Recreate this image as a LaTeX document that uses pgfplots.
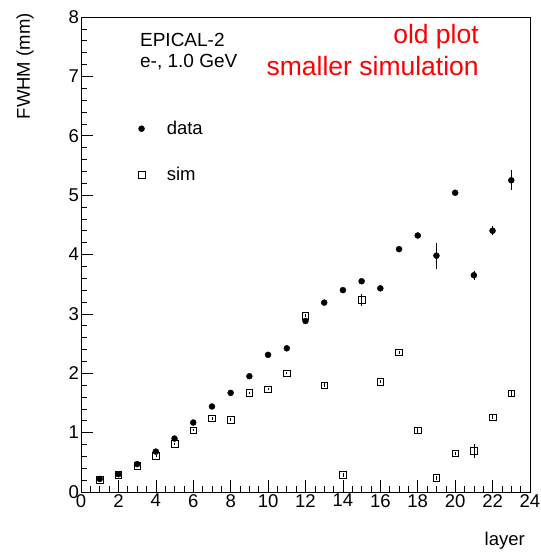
\documentclass[border=0pt]{standalone}
\usepackage{pgfplots}
\pgfplotsset{compat=1.18}
\usepackage{fontspec}
\setmainfont{Liberation Sans}
\pgfplotsset{mylegend/.style={legend image code/.code={\path (-3pt,0pt) (23pt,0pt); \draw[##1] plot coordinates {(0pt,0pt)};}}}
\begin{document}
\begin{tikzpicture}
\useasboundingbox (-81pt,-60pt) rectangle (460pt,492pt);
\begin{axis}[
  scale only axis, width=449pt, height=475pt,
  xmin=0, xmax=24, ymin=0, ymax=8,
  xtick={0,2,...,24}, ytick={0,1,...,8},
  minor x tick num=3, minor y tick num=4,
  xtick pos=bottom, ytick pos=left,
  tick align=inside,
  major tick length=12pt, minor tick length=6pt,
  every tick/.style={black, line width=0.6pt},
  axis line style={black, line width=0.6pt},
  /pgf/number format/assume math mode=true,
  tick label style={font=\fontsize{18.5}{22}\selectfont},
  xticklabel style={inner sep=2pt},
  yticklabel style={inner sep=2pt},
  xlabel={layer},
  ylabel={FWHM (mm)},
  label style={font=\fontsize{18.5}{22}\selectfont},
  xlabel style={at={(axis description cs:1,0)}, anchor=north east, inner sep=0pt, yshift=-40pt, xshift=-5pt},
  ylabel style={at={(axis description cs:-0.105,1.008)}, anchor=south east, inner sep=0pt},
  legend style={draw=none, fill=none, at={(axis cs:2.89,6.315)}, anchor=north west,
    font=\fontsize{18.5}{22}\selectfont, row sep=27pt, legend cell align=left},
  clip=false,
]
\addplot+[only marks, mark=*, mark size=3pt, black, mark options={fill=black}, mylegend,
  error bars/.cd, y dir=both, y explicit, error bar style={black, line width=0.6pt}, error mark=none]
table[x=x, y=y, y error=e] {
x y e
1 0.22 0.01
2 0.30 0.01
3 0.47 0.01
4 0.68 0.01
5 0.90 0.01
6 1.17 0.01
7 1.44 0.01
8 1.67 0.01
9 1.95 0.01
10 2.31 0.01
11 2.42 0.01
12 2.88 0.02
13 3.19 0.02
14 3.40 0.02
15 3.55 0.02
16 3.43 0.02
17 4.09 0.03
18 4.32 0.03
19 3.98 0.22
20 5.04 0.03
21 3.65 0.08
22 4.40 0.08
23 5.25 0.17
};
\addlegendentry{data}
\addplot+[only marks, mark=square, mark size=3.3pt, black, mark options={fill=white, line width=0.6pt}, mylegend,
  error bars/.cd, y dir=both, y explicit, error bar style={black, line width=0.6pt}, error mark=none]
table[x=x, y=y, y error=e] {
x y e
1 0.21 0.01
2 0.29 0.01
3 0.44 0.01
4 0.61 0.01
5 0.81 0.01
6 1.04 0.02
7 1.24 0.02
8 1.22 0.02
9 1.67 0.02
10 1.73 0.02
11 2.00 0.02
12 2.97 0.03
13 1.80 0.03
14 0.29 0.03
15 3.24 0.10
16 1.86 0.03
17 2.35 0.03
18 1.04 0.06
19 0.24 0.03
20 0.65 0.03
21 0.69 0.12
22 1.26 0.03
23 1.66 0.05
};
\addlegendentry{sim}
\node[anchor=base west, inner sep=0pt, font=\fontsize{19}{22}\selectfont] at (axis cs:3.15,7.50) {EPICAL-2};
\node[anchor=base west, inner sep=0pt, font=\fontsize{19}{22}\selectfont] at (axis cs:3.15,7.146) {e-, 1.0 GeV};
\node[anchor=base east, inner sep=0pt, text=red, font=\fontsize{26.5}{30}\selectfont] at (axis cs:21.27,7.557) {old plot};
\node[anchor=base east, inner sep=0pt, text=red, font=\fontsize{26.5}{30}\selectfont] at (axis cs:21.27,7.023) {smaller simulation};
\end{axis}
\end{tikzpicture}
\end{document}
